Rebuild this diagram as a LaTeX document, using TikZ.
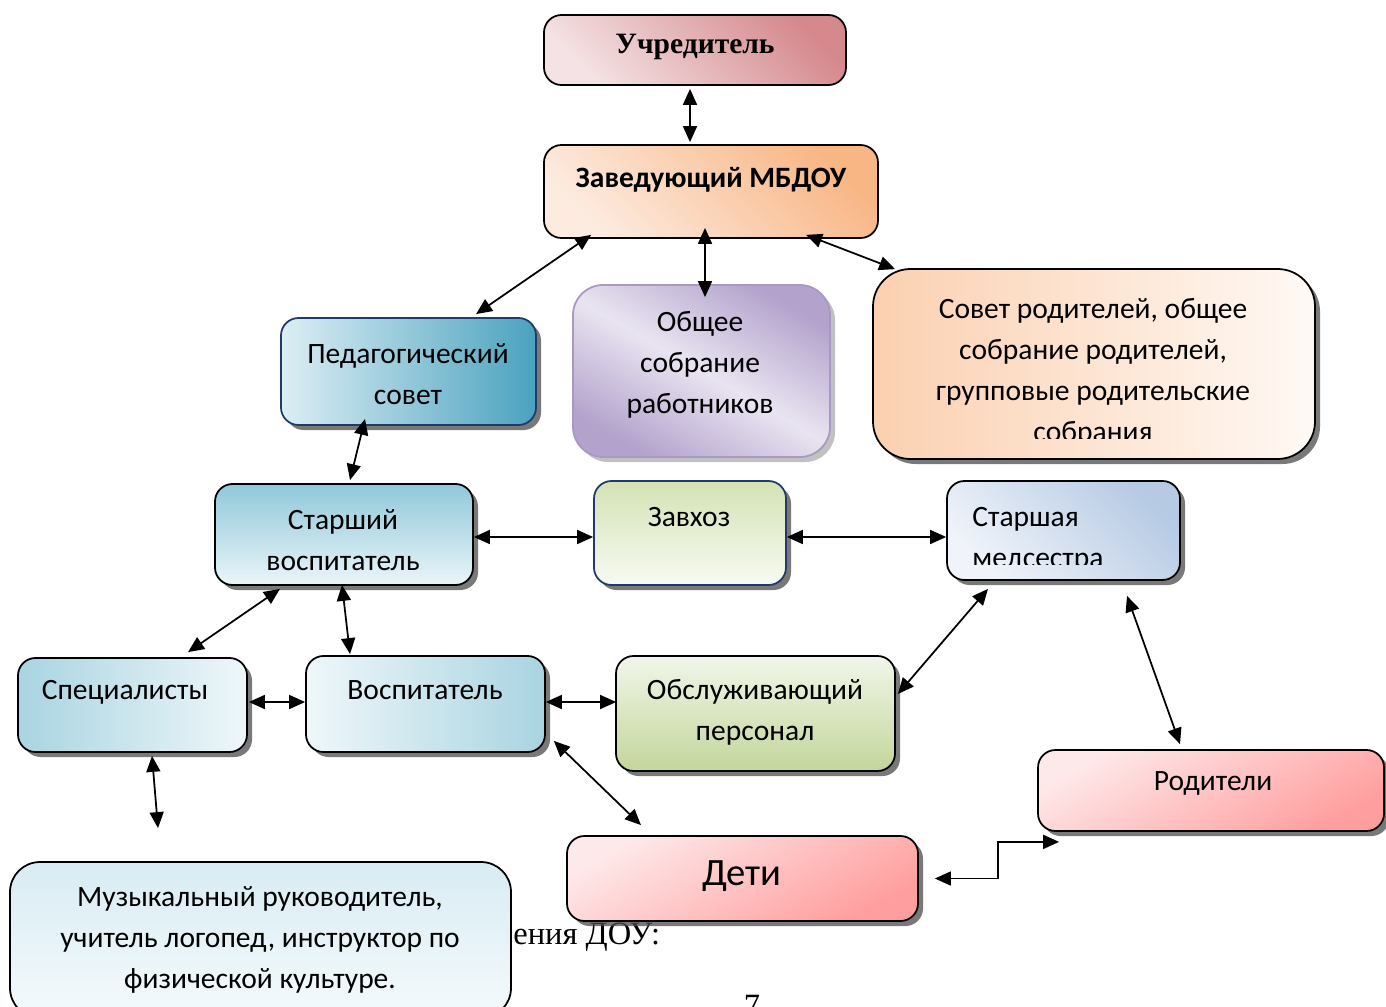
\documentclass[tikz,border=0pt]{standalone}
\usepackage{fontspec}
\setmainfont{Liberation Serif}
\newfontfamily\calibri{Carlito}
\usetikzlibrary{shadows,arrows.meta,calc}

\definecolor{ucrA}{HTML}{F4E2E4}
\definecolor{ucrB}{HTML}{D5898D}
\definecolor{zavA}{HTML}{FDEBE0}
\definecolor{zavB}{HTML}{F8B685}
\definecolor{pedA}{HTML}{DDEEF4}
\definecolor{pedM}{HTML}{B3D8E4}
\definecolor{pedB}{HTML}{4AA2BF}
\definecolor{navy}{HTML}{1F3A6B}
\definecolor{obsA}{HTML}{B3A2CC}
\definecolor{obsM}{HTML}{E9E4F1}
\definecolor{obsE}{HTML}{A898C4}
\definecolor{sovA}{HTML}{FBD0B0}
\definecolor{sovB}{HTML}{FFF9F5}
\definecolor{starA}{HTML}{90C8D9}
\definecolor{starB}{HTML}{EAF5F9}
\definecolor{zavhA}{HTML}{D4E2B5}
\definecolor{zavhB}{HTML}{F7FAF2}
\definecolor{medA}{HTML}{B6CAE4}
\definecolor{medB}{HTML}{F0F4FA}
\definecolor{specA}{HTML}{A9D4E1}
\definecolor{specB}{HTML}{EFF7FA}
\definecolor{obslA}{HTML}{F1F6E8}
\definecolor{obslB}{HTML}{C3D69B}
\definecolor{rodA}{HTML}{FEE9EA}
\definecolor{rodB}{HTML}{FF9E9E}
\definecolor{muzA}{HTML}{D8ECF3}
\definecolor{muzB}{HTML}{F5FAFC}

\tikzset{
  box/.style={draw=black, line width=1pt, rounded corners=0.35cm, inner sep=0pt},
  sz/.style 2 args={minimum width=#1*0.02cm, minimum height=#2*0.02cm},
  shd/.style={drop shadow={shadow xshift=0.1cm, shadow yshift=-0.1cm, fill=black!70, opacity=0.75}},
  softshd/.style={drop shadow={shadow xshift=0.1cm, shadow yshift=-0.1cm, fill=black!30, opacity=0.8}},
  txt/.style={font={\calibri\fontsize{16.8}{23.3}\selectfont}, align=center, inner sep=0pt},
  serif/.style={font={\fontsize{18.5}{22}\selectfont}, inner sep=0pt},
  arr/.style={{Triangle[length=0.32cm,width=0.28cm]}-{Triangle[length=0.32cm,width=0.28cm]}, line width=1pt},
}

\begin{document}
\begin{tikzpicture}[x=0.02cm,y=-0.02cm]
\useasboundingbox (0,0) rectangle (1386,1007);

% text of the page under the scheme
\node[serif, anchor=west] (doc) at (513,937) {ения ДОУ:};
\node[serif, anchor=north] (pg) at (752,995) {7};

% boxes
\node[box, sz={302}{70}, top color=ucrB, bottom color=ucrA, shading angle=-45] (ucr) at (695,50) {};
\node[box, sz={334}{93}, top color=zavB, bottom color=zavA, shading angle=-45] (zav) at (711,191.5) {};
\node[box, shd, draw=navy, sz={255}{107}, left color=pedA, middle color=pedM, right color=pedB] (ped) at (408.5,371.5) {};
\node[box, softshd, draw=obsE, rounded corners=0.6cm, sz={257}{172}, top color=obsA, bottom color=obsA, middle color=obsM, shading angle=-30] (obs) at (701.5,371) {};
\node[box, shd, rounded corners=0.75cm, sz={442}{190}, left color=sovA, right color=sovB] (sov) at (1094,364) {};
\node[box, shd, sz={258}{101}, top color=starA, bottom color=starB] (star) at (344,534.5) {};
\node[box, shd, draw=navy, sz={192}{104}, top color=zavhA, bottom color=zavhB] (zavh) at (690,533) {};
\node[box, shd, sz={233}{99}, top color=medA, bottom color=medB, shading angle=-45] (med) at (1063.5,530.5) {};
\node[box, shd, sz={229}{94}, left color=specA, right color=specB] (spec) at (132.5,705) {};
\node[box, shd, sz={239}{96}, left color=specB, right color=specA] (vosp) at (425.5,704) {};
\node[box, shd, sz={279}{115}, top color=obslA, bottom color=obslB] (obsl) at (755.5,713.5) {};
\node[box, shd, sz={346}{81}, top color=rodA, bottom color=rodB, shading angle=30] (rod) at (1211,790.5) {};
\node[box, shd, sz={351}{85}, top color=rodA, bottom color=rodB, shading angle=30] (deti) at (742.5,878.5) {};
\node[box, rounded corners=0.6cm, sz={501}{156}, top color=muzA, bottom color=muzB] (muz) at (260.5,940) {};

% texts
\node[inner sep=0pt, font={\fontsize{16.8}{20}\selectfont\bfseries}] (ucrt) at (695,47) {Учредитель};
\node[txt, font={\calibri\fontsize{16.8}{20}\selectfont\bfseries}] (zavt) at (711,180) {Заведующий МБДОУ};
\node[txt] (pedt) at (408,374) {Педагогический\\совет};
\node[txt] (obst) at (700,365) {Общее\\собрание\\работников};
\begin{scope}
\clip (873,269) rectangle (1315,438);
\node[txt] (sovt) at (1093,372.5) {Совет родителей, общее\\собрание родителей,\\групповые родительские\\собрания};
\end{scope}
\node[txt] (start) at (343,540) {Старший\\воспитатель};
\node[txt] (zavht) at (689,517) {Завхоз};
\begin{scope}
\clip (947,481) rectangle (1180,564);
\node[txt, anchor=west, align=left] (medt) at (972,539.5) {Старшая\\медсестра};
\end{scope}
\node[txt] (spect) at (125,692) {Специалисты};
\node[txt] (vospt) at (425,690) {Воспитатель};
\node[txt] (obslt) at (755,712) {Обслуживающий\\персонал};
\node[txt] (rodt) at (1213,783) {Родители};
\node[txt, font={\calibri\fontsize{22}{26}\selectfont}] (detit) at (742,876) {Дети};
\node[txt] (muzt) at (260,940) {Музыкальный руководитель,\\учитель логопед, инструктор по\\физической культуре.};

% links
\draw[arr] ($(ucr.south)+(-5,3)$) -- ($(zav.north)+(-21,-2)$);
\draw[arr] ($(zav.south west)+(48,-4)$) -- ($(ped.north)+(67.5,-3)$);
\draw[arr] ($(zav.south)+(-6,-11)$) -- ($(obs.north)+(3.5,13)$);
\draw[arr] ($(zav.south)+(95,-4)$) -- ($(sov.north west)+(23,1)$);
\draw[arr] ($(ped.south)+(-43.5,-7)$) -- ($(star.north)+(6,-3)$);
\draw[arr] ($(star.east)+(0,2.5)$) -- ($(zavh.west)+(0,4)$);
\draw[arr] ($(zavh.east)+(0,4)$) -- ($(med.west)+(0,6.5)$);
\draw[arr] ($(star.south)+(-64,3)$) -- ($(spec.north)+(55.5,-5)$);
\draw[arr] ($(star.south)+(-2,-1)$) -- ($(vosp.north)+(-75.5,-1)$);
\draw[arr] ($(spec.east)+(1,-3)$) -- ($(vosp.west)+(0,-2)$);
\draw[arr] ($(vosp.east)+(0,-2)$) -- ($(obsl.west)+(1,-11.5)$);
\draw[arr] ($(obsl.east)+(2,-19.5)$) -- ($(med.south)+(-75.5,8)$);
\draw[arr] ($(med.south)+(63.5,15)$) -- ($(rod.north)+(-31,-5)$);
\draw[arr] ($(vosp.south east)+(8,-12)$) -- ($(deti.north)+(-101.5,-10)$);
\draw[arr] ($(spec.south)+(19.5,3)$) -- ($(muz.north)+(-102.5,-33)$);
\draw[arr] ($(deti.east)+(16,0)$) -- ++(63,0) |- ($(rod.south west)+(22,10)$);
\end{tikzpicture}
\end{document}
